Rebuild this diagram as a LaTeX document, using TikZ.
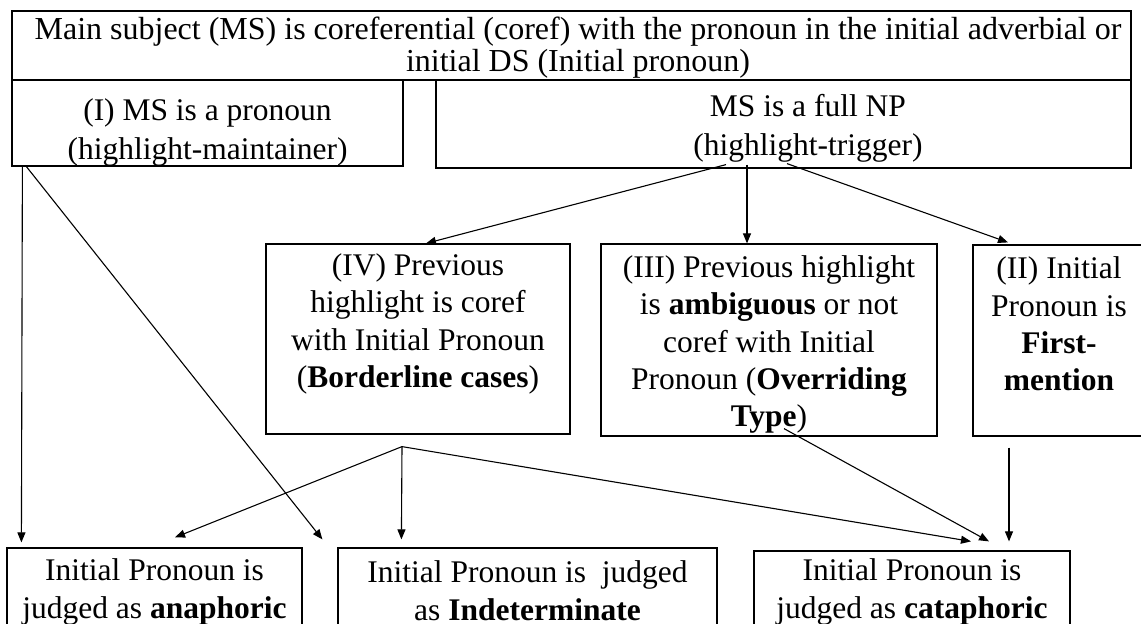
\documentclass[tikz,border=0pt]{standalone}
\usepackage{fontspec}
\setmainfont{Liberation Serif}
\usetikzlibrary{arrows.meta,calc}
\begin{document}
\begin{tikzpicture}[x=1pt,y=-1pt,
  box/.style={draw, line width=1.2pt, inner sep=0pt},
  txt/.style={inner sep=0pt, align=center},
  arr/.style={line width=1.1pt, -{Triangle[length=10pt,width=8pt]}}]
\useasboundingbox (0,0) rectangle (1141,624);
\fill[white] (0,0) rectangle (1141,624);
\clip (0,0) rectangle (1141,624);

% boxes
\node[box, minimum width=1119pt, minimum height=69pt] (top) at (571.5,45.5) {};
\node[box, minimum width=391pt, minimum height=86pt] (pron) at (207.5,123) {};
\node[box, minimum width=695pt, minimum height=88pt] (np) at (783.5,124) {};
\node[box, minimum width=304pt, minimum height=190pt] (iv) at (418,339) {};
\node[box, minimum width=336pt, minimum height=192pt] (iii) at (769,340) {};
\node[box, minimum width=172pt, minimum height=191pt] (ii) at (1059,340.5) {};
\node[box, minimum width=295pt, minimum height=112pt] (ana) at (154.5,604) {};
\node[box, minimum width=379pt, minimum height=112pt] (indet) at (527.5,604) {};
\node[box, minimum width=316pt, minimum height=112pt] (cat) at (912,607) {};

% box texts
\node[txt, font=\fontsize{32}{31.5}\selectfont] (toptxt) at ($(top.center)+(6.5,2)$)
  {Main subject (MS) is coreferential (coref) with the pronoun in the initial adverbial or\\
   initial DS (Initial pronoun)};
\node[txt, font=\fontsize{31.5}{39}\selectfont] (prontxt) at ($(pron.center)+(0,9.5)$)
  {(I) MS is a pronoun\\(highlight-maintainer)};
\node[txt, font=\fontsize{31.5}{39}\selectfont] (nptxt) at ($(np.center)+(24.5,4)$)
  {MS is a full NP\\(highlight-trigger)};
\node[txt, font=\fontsize{31.5}{37.25}\selectfont] (ivtxt) at ($(iv.center)+(0,-15)$)
  {(IV) Previous\\highlight is coref\\with Initial Pronoun\\(\textbf{Borderline cases})};
\node[txt, font=\fontsize{31.5}{37.25}\selectfont] (iiitxt) at ($(iii.center)+(0,4.5)$)
  {(III) Previous highlight\\is \textbf{ambiguous} or not\\coref with Initial\\Pronoun (\textbf{Overriding}\\\textbf{Type})};
\node[txt, font=\fontsize{31.5}{37.25}\selectfont] (iitxt) at ($(ii.center)+(0,-16.5)$)
  {(II) Initial\\Pronoun is\\\textbf{First-}\\\textbf{mention}};
\node[txt, font=\fontsize{31.5}{38}\selectfont] (anatxt) at ($(ana.center)+(0,-12.5)$)
  {Initial Pronoun is\\judged as \textbf{anaphoric}};
\node[txt, font=\fontsize{31.5}{38}\selectfont] (indettxt) at ($(indet.center)+(0,-13)$)
  {Initial Pronoun is~ judged\\as \textbf{Indeterminate}};
\node[txt, font=\fontsize{31.5}{38}\selectfont] (cattxt) at ($(cat.center)+(0,-15.5)$)
  {Initial Pronoun is\\judged as \textbf{cataphoric}};

% fork points below boxes IV and II
\coordinate (ivfork) at ($(iv.south)+(-16,12)$);
\coordinate (iifoot) at ($(ii.south)+(-50,11)$);

% connectors from the full-NP box
\draw[arr] ($(np.south)+(-57.5,-4)$) -- ($(iv.north)+(8,0)$);
\draw[arr] ($(np.south)+(-36.5,-4)$) -- ($(iii.north)+(-22,0)$);
\draw[arr] ($(np.south)+(3.5,-5)$) -- ($(ii.north)+(-51,-2)$);

% connectors from the pronoun box
\draw[arr] ($(pron.south west)+(11,0)$) -- ($(ana.north west)+(15,-5)$);
\draw[arr] ($(pron.south west)+(15,0)$) -- ($(indet.north west)+(-15,-8)$);

% connectors from box IV
\draw[arr] (ivfork) -- ($(ana.north)+(20.5,-10)$);
\draw[arr] (ivfork) -- ($(indet.north west)+(64,-8)$);
\draw[arr] (ivfork) -- ($(cat.north)+(59,-9)$);

% connectors from boxes III and II
\draw[arr] ($(iii.south)+(15,-8)$) -- ($(cat.north)+(77,-9)$);
\draw[arr] (iifoot) -- ($(cat.north)+(97,-9)$);
\end{tikzpicture}
\end{document}
